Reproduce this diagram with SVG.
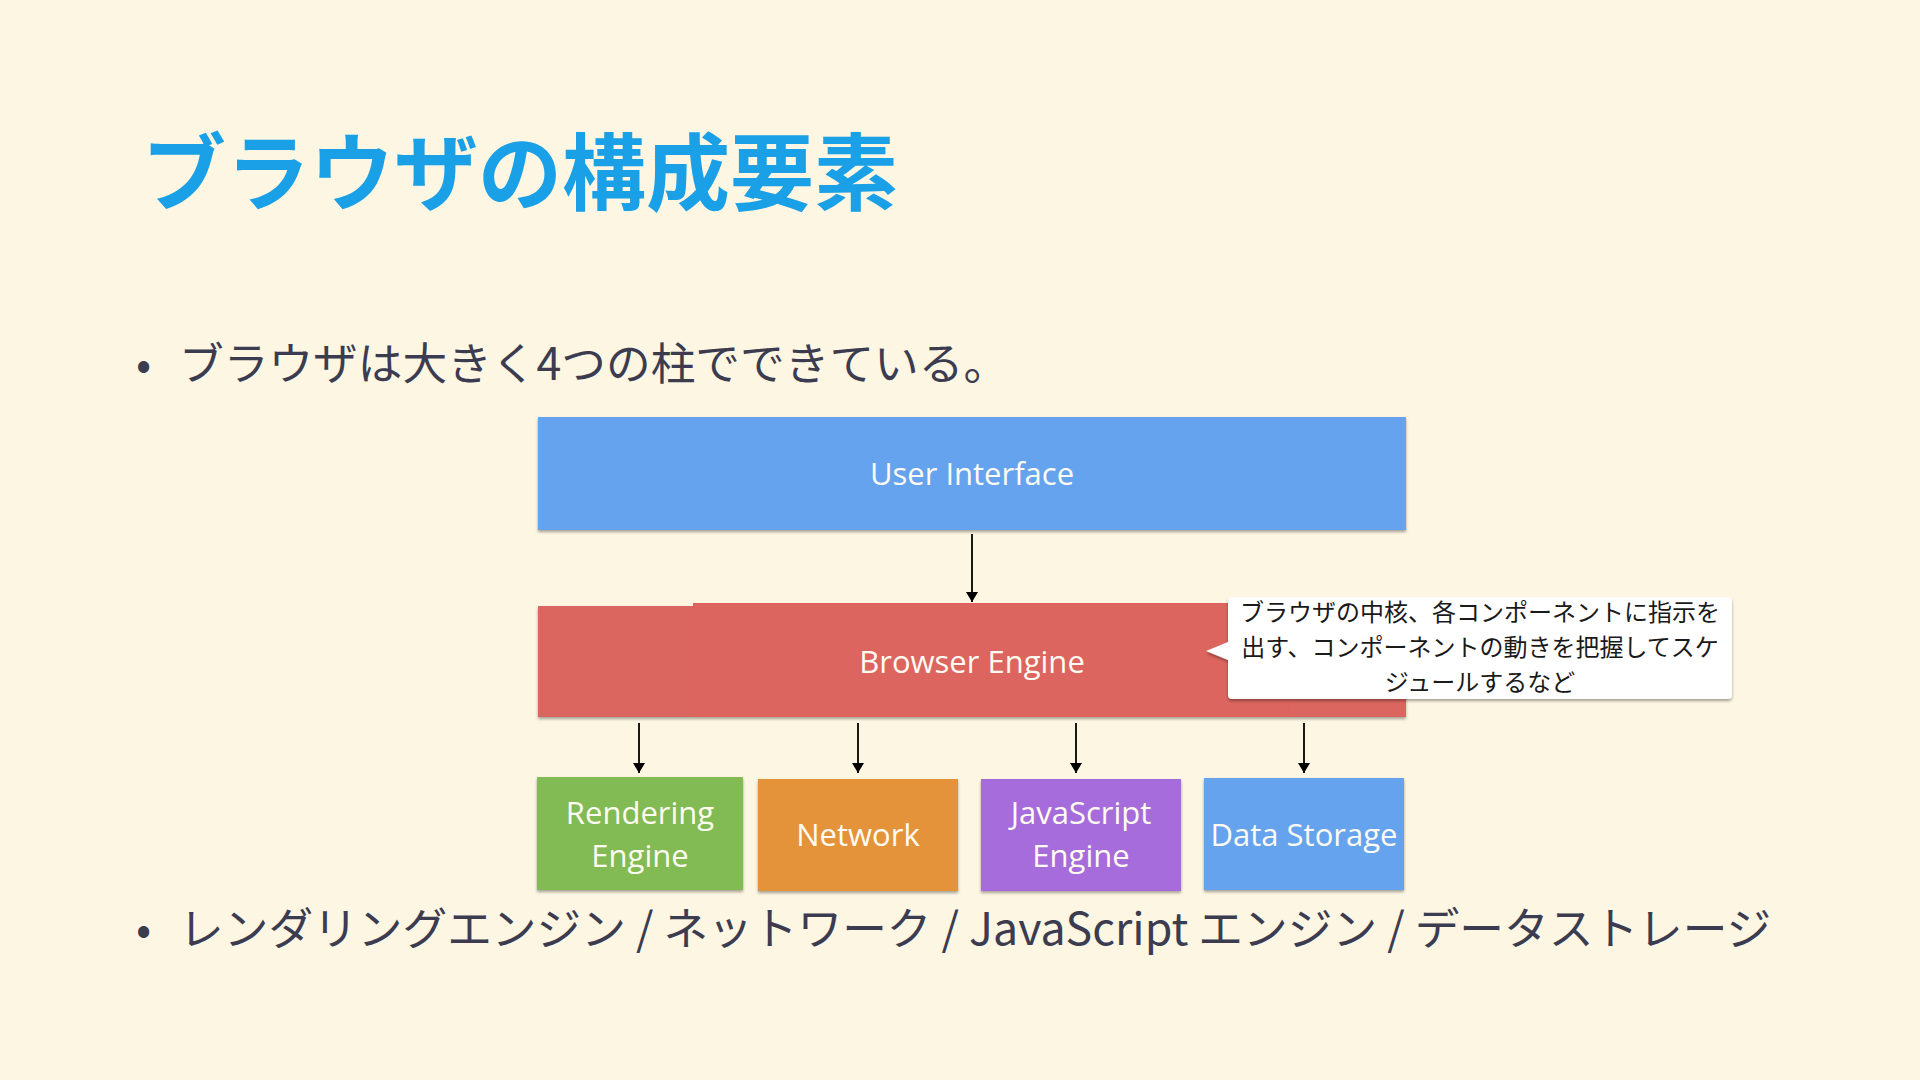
<svg xmlns="http://www.w3.org/2000/svg" width="1920" height="1080" viewBox="0 0 1920 1080">
<defs>
<style>
.jp{font-family:"Noto Sans CJK JP","Noto Sans",sans-serif;}
.title{font-size:84px;font-weight:700;fill:#19a0e6;}
.bullet{font-size:44.7px;fill:#3c3c50;}
.lbl{font-family:"Open Sans","Noto Sans",sans-serif;font-size:31px;fill:#fdfbf2;text-anchor:middle;}
.note{font-size:24px;fill:#1a1a1a;text-anchor:middle;}
.conn{stroke:#000;stroke-width:1.8;fill:none;marker-end:url(#ah);}
</style>
<filter id="sh" x="-5%" y="-10%" width="110%" height="130%">
<feDropShadow dx="0" dy="2" stdDeviation="1.5" flood-color="#000" flood-opacity="0.35"/>
</filter>
<marker id="ah" viewBox="0 0 10 12" refX="10" refY="6" markerWidth="10" markerHeight="12" markerUnits="userSpaceOnUse" orient="auto">
<path d="M0,0 L10,6 L0,12 Z" fill="#000"/>
</marker>
</defs>
<rect width="1920" height="1080" fill="#fdf6e3"/>

<g id="title">
<text class="jp title" x="142" y="204">ブラウザの構成要素</text>
</g>

<g id="bullet1">
<text class="jp bullet" x="136" y="380">•</text>
<text class="jp bullet" x="179" y="380">ブラウザは大きく4つの柱でできている。</text>
</g>

<g id="user-interface">
<rect x="538" y="417" width="868" height="113" fill="#66a3ee" filter="url(#sh)"/>
<text class="lbl" x="972" y="485">User Interface</text>
</g>

<g id="browser-engine">
<rect x="538" y="606" width="868" height="111" fill="#db665e" filter="url(#sh)"/>
<rect x="693.5" y="603.5" width="595" height="112" fill="#dd655f" stroke="#e2605c" stroke-width="1"/>
<text class="lbl" x="972" y="673">Browser Engine</text>
</g>

<g id="callout">
<path d="M1232,597 H1728 Q1732,597 1732,601 V695 Q1732,699 1728,699 H1232 Q1228,699 1228,695 V660 L1206,651 L1228,642 V601 Q1228,597 1232,597 Z" fill="#ffffff" filter="url(#sh)"/>
<text class="jp note" x="1480" y="621">ブラウザの中核、各コンポーネントに指示を</text>
<text class="jp note" x="1480" y="656">出す、コンポーネントの動きを把握してスケ</text>
<text class="jp note" x="1480" y="691">ジュールするなど</text>
</g>

<g id="rendering-engine">
<rect x="537" y="777" width="206" height="113" fill="#82bb53" filter="url(#sh)"/>
<text class="lbl" x="640" y="824">Rendering</text>
<text class="lbl" x="640" y="867">Engine</text>
</g>

<g id="network">
<rect x="758" y="779" width="200" height="112" fill="#e5933b" filter="url(#sh)"/>
<text class="lbl" x="858" y="846">Network</text>
</g>

<g id="javascript-engine">
<rect x="981" y="779" width="200" height="112" fill="#a76cdb" filter="url(#sh)"/>
<text class="lbl" x="1081" y="824">JavaScript</text>
<text class="lbl" x="1081" y="867">Engine</text>
</g>

<g id="data-storage">
<rect x="1204" y="778" width="200" height="112" fill="#66a3ee" filter="url(#sh)"/>
<text class="lbl" x="1304" y="846">Data Storage</text>
</g>

<g id="connectors">
<line class="conn" x1="972" y1="534" x2="972" y2="602"/>
<line class="conn" x1="639" y1="723" x2="639" y2="773"/>
<line class="conn" x1="858" y1="723" x2="858" y2="773"/>
<line class="conn" x1="1076" y1="723" x2="1076" y2="773"/>
<line class="conn" x1="1304" y1="723" x2="1304" y2="773"/>
</g>

<g id="bullet2">
<text class="jp bullet" x="136" y="945">•</text>
<text class="jp bullet" x="179" y="945">レンダリングエンジン / ネットワーク / JavaScript エンジン / データストレージ</text>
</g>
</svg>
